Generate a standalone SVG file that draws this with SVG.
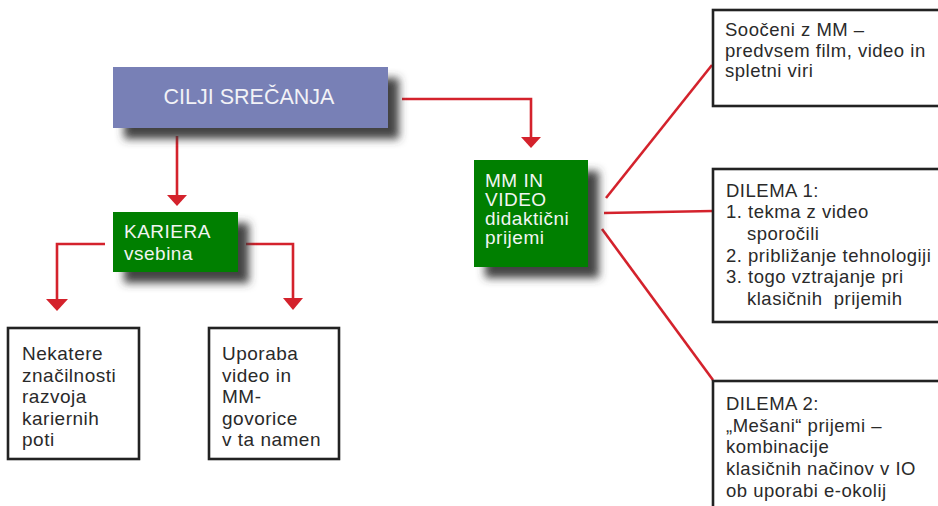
<svg xmlns="http://www.w3.org/2000/svg" width="938" height="506" viewBox="0 0 938 506">
<defs>
<filter id="sh" x="-20%" y="-30%" width="150%" height="180%">
<feGaussianBlur in="SourceAlpha" stdDeviation="4"/>
<feOffset dx="11" dy="11" result="b"/>
<feFlood flood-color="#3a3a3a" flood-opacity="0.95"/>
<feComposite in2="b" operator="in"/>
<feMerge><feMergeNode/><feMergeNode in="SourceGraphic"/></feMerge>
</filter>
<style>
.con{fill:none;stroke:#d4222c;stroke-width:2.6}
.head{fill:#d4222c}
.box{fill:#fff;stroke:#222;stroke-width:2.6}
.t{font-family:"Liberation Sans",Arial,sans-serif;fill:#2a2a2a;letter-spacing:0.5px}
.tl{font-size:19px}
.tr{font-size:18.5px}
.w{font-family:"Liberation Sans",Arial,sans-serif;fill:#f2f5f2;letter-spacing:0.5px;font-size:19px}
</style>
</defs>
<rect width="938" height="506" fill="#fff"/>
<g id="connectors">
<path class="con" d="M177,136 V197"/>
<path class="head" d="M167,195 L187,195 L177,206 Z"/>
<path class="con" d="M402,99 H531 V139"/>
<path class="head" d="M521,137 L541,137 L531,148 Z"/>
<path class="con" d="M105,244 H57 V301"/>
<path class="head" d="M46,299 L68,299 L57,311 Z"/>
<path class="con" d="M246,244 H293 V300"/>
<path class="head" d="M283,298 L303,298 L293,310 Z"/>
<path class="con" d="M606,198 L712,65"/>
<path class="con" d="M604,213 L713,211"/>
<path class="con" d="M602,229 L713,380"/>
</g>
<g id="cilji">
<rect x="113" y="67" width="275" height="61" fill="#7880b6" filter="url(#sh)"/>
<text x="249" y="104" text-anchor="middle" font-family="Liberation Sans, Arial, sans-serif" font-size="21.5" fill="#f2f2f6">CILJI SREČANJA</text>
</g>
<g id="kariera">
<rect x="113" y="212" width="125" height="60" fill="#007f00" filter="url(#sh)"/>
<text class="w" x="124" y="238">KARIERA</text>
<text class="w" x="124" y="260">vsebina</text>
</g>
<g id="mmvideo">
<rect x="474" y="160" width="114" height="107" fill="#007f00" filter="url(#sh)"/>
<text class="w" x="485" y="187">MM IN</text>
<text class="w" x="485" y="206">VIDEO</text>
<text class="w" x="485" y="225">didaktični</text>
<text class="w" x="485" y="244">prijemi</text>
</g>
<g id="nekatere">
<rect class="box" x="8" y="328" width="131" height="131"/>
<text class="t tl" x="22" y="360">Nekatere</text>
<text class="t tl" x="22" y="382">značilnosti</text>
<text class="t tl" x="22" y="403">razvoja</text>
<text class="t tl" x="22" y="425">kariernih</text>
<text class="t tl" x="22" y="446">poti</text>
</g>
<g id="uporaba">
<rect class="box" x="209" y="328" width="130" height="131"/>
<text class="t tl" x="222" y="360">Uporaba</text>
<text class="t tl" x="222" y="382">video in</text>
<text class="t tl" x="222" y="403">MM-</text>
<text class="t tl" x="222" y="425">govorice</text>
<text class="t tl" x="222" y="446">v ta namen</text>
</g>
<g id="soocenje">
<rect class="box" x="713" y="10" width="240" height="96"/>
<text class="t tr" x="725" y="36">Soočeni z MM –</text>
<text class="t tr" x="725" y="57">predvsem film, video in</text>
<text class="t tr" x="725" y="77">spletni viri</text>
</g>
<g id="dilema1">
<rect class="box" x="713" y="169" width="240" height="153"/>
<text class="t tr" x="726" y="197">DILEMA 1:</text>
<text class="t tr" x="726" y="218">1. tekma z video</text>
<text class="t tr" x="747" y="240">sporočili</text>
<text class="t tr" x="726" y="262">2. približanje tehnologiji</text>
<text class="t tr" x="726" y="283">3. togo vztrajanje pri</text>
<text class="t tr" x="747" y="305" xml:space="preserve">klasičnih  prijemih</text>
</g>
<g id="dilema2">
<rect class="box" x="713" y="381" width="240" height="140"/>
<text class="t tr" x="726" y="410">DILEMA 2:</text>
<text class="t tr" x="726" y="432">„Mešani“ prijemi –</text>
<text class="t tr" x="726" y="453">kombinacije</text>
<text class="t tr" x="726" y="475">klasičnih načinov v IO</text>
<text class="t tr" x="726" y="497">ob uporabi e-okolij</text>
</g>
</svg>
